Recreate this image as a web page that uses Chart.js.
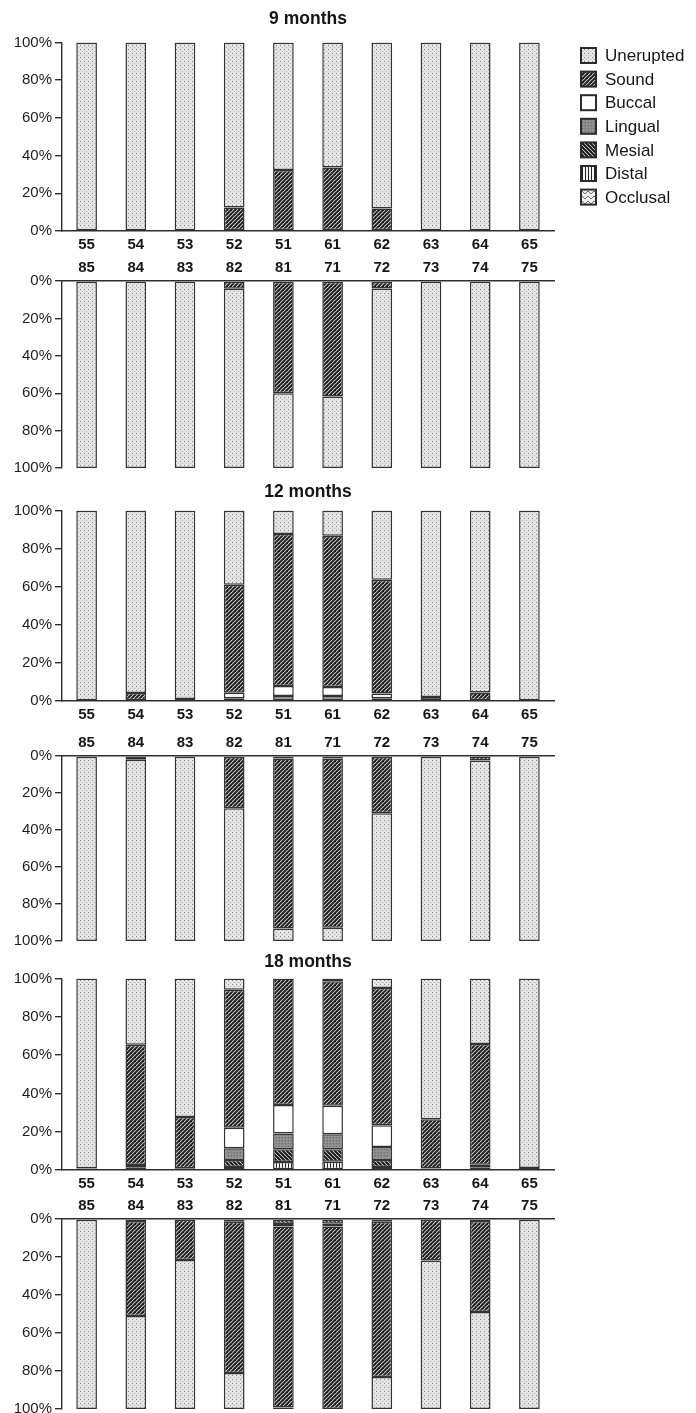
<!DOCTYPE html>
<html>
<head>
<meta charset="utf-8">
<title>Tooth surface status by age</title>
<script src="https://cdn.jsdelivr.net/npm/chart.js@4.4.1/dist/chart.umd.min.js"></script>
<style>
  html, body { margin: 0; padding: 0; background: #fff; }
  #page { position: relative; width: 696px; height: 1413px; overflow: hidden; }
  .panel { position: absolute; left: 0; }
  .panel canvas { display: block; }
</style>
</head>
<body>
<div id="page"></div>
<script>
// ---- data ---------------------------------------------------------------
const categories = ['Unerupted', 'Sound', 'Buccal', 'Lingual', 'Mesial', 'Distal', 'Occlusal'];
const upperTeeth = ['55', '54', '53', '52', '51', '61', '62', '63', '64', '65'];
const lowerTeeth = ['85', '84', '83', '82', '81', '71', '72', '73', '74', '75'];
const percentTicks = [0, 20, 40, 60, 80, 100];
const ageTitles = ['9 months', '12 months', '18 months'];

// rows follow `categories`, columns follow the tooth lists (percent of children)
const months9Upper = [
  [100, 100, 100, 87.5, 67.7, 66.3, 88, 100, 100, 100],
  [0, 0, 0, 12.5, 32.3, 33.7, 12, 0, 0, 0],
  [0, 0, 0, 0, 0, 0, 0, 0, 0, 0],
  [0, 0, 0, 0, 0, 0, 0, 0, 0, 0],
  [0, 0, 0, 0, 0, 0, 0, 0, 0, 0],
  [0, 0, 0, 0, 0, 0, 0, 0, 0, 0],
  [0, 0, 0, 0, 0, 0, 0, 0, 0, 0]
];
const months9Lower = [
  [100, 100, 100, 95.8, 40, 38.2, 96, 100, 100, 100],
  [0, 0, 0, 4.2, 60, 61.8, 4, 0, 0, 0],
  [0, 0, 0, 0, 0, 0, 0, 0, 0, 0],
  [0, 0, 0, 0, 0, 0, 0, 0, 0, 0],
  [0, 0, 0, 0, 0, 0, 0, 0, 0, 0],
  [0, 0, 0, 0, 0, 0, 0, 0, 0, 0],
  [0, 0, 0, 0, 0, 0, 0, 0, 0, 0]
];
const months12Upper = [
  [100, 95.8, 99, 39, 12.3, 13.2, 36.3, 97.9, 95.6, 100],
  [0, 4.2, 1, 56.7, 79.8, 79.5, 59.7, 2.1, 4.4, 0],
  [0, 0, 0, 2.8, 5.3, 4.7, 2.6, 0, 0, 0],
  [0, 0, 0, 1.5, 2.6, 2.6, 1.4, 0, 0, 0],
  [0, 0, 0, 0, 0, 0, 0, 0, 0, 0],
  [0, 0, 0, 0, 0, 0, 0, 0, 0, 0],
  [0, 0, 0, 0, 0, 0, 0, 0, 0, 0]
];
const months12Lower = [
  [100, 98, 100, 71.7, 6.7, 7.2, 69, 100, 97.6, 100],
  [0, 2, 0, 28.3, 92, 91.5, 31, 0, 2.4, 0],
  [0, 0, 0, 0, 1.3, 1.3, 0, 0, 0, 0],
  [0, 0, 0, 0, 0, 0, 0, 0, 0, 0],
  [0, 0, 0, 0, 0, 0, 0, 0, 0, 0],
  [0, 0, 0, 0, 0, 0, 0, 0, 0, 0],
  [0, 0, 0, 0, 0, 0, 0, 0, 0, 0]
];
const months18Upper = [
  [99.2, 34.6, 72.3, 5.9, 0, 1.5, 4.9, 73.5, 34.2, 99],
  [0.8, 62.8, 26.8, 72, 66, 65, 71.7, 25.7, 63.1, 0],
  [0, 1.2, 0.9, 10.7, 15, 14.8, 11.4, 0.8, 1.2, 0],
  [0, 1.4, 0, 6.2, 8.2, 7.9, 6.8, 0, 1.5, 1],
  [0, 0, 0, 3.6, 6.6, 6.5, 3.6, 0, 0, 0],
  [0, 0, 0, 1.6, 4.2, 4.3, 1.6, 0, 0, 0],
  [0, 0, 0, 0, 0, 0, 0, 0, 0, 0]
];
const months18Lower = [
  [100, 49, 78.4, 19, 0.8, 0, 16.8, 78.2, 51, 100],
  [0, 50, 21.6, 79.5, 95.2, 96.1, 81.7, 21.8, 48, 0],
  [0, 0, 0, 0, 1.4, 1.4, 0, 0, 0, 0],
  [0, 0, 0, 0, 0, 0, 0, 0, 0, 0],
  [0, 1, 0, 1.5, 2.6, 2.5, 1.5, 0, 1, 0],
  [0, 0, 0, 0, 0, 0, 0, 0, 0, 0],
  [0, 0, 0, 0, 0, 0, 0, 0, 0, 0]
];

// ---- fills ----------------------------------------------------------------
function tile(w, h, paint) {
  const c = document.createElement('canvas');
  c.width = w; c.height = h;
  const g = c.getContext('2d');
  paint(g, w, h);
  return g.createPattern(c, 'repeat');
}
function diagonal(g, s, color, width, rising) {
  g.strokeStyle = color; g.lineWidth = width; g.lineCap = 'square';
  const segs = rising
    ? [[0, s, s, 0], [-s, s, s, -s], [0, 2 * s, 2 * s, 0]]
    : [[0, 0, s, s], [-s, 0, s, 2 * s], [0, -s, 2 * s, s]];
  segs.forEach(([a, b, c, d]) => { g.beginPath(); g.moveTo(a, b); g.lineTo(c, d); g.stroke(); });
}
const fills = [
  // Unerupted: fine stipple
  tile(4, 4, (g) => {
    g.fillStyle = '#e3e3e3'; g.fillRect(0, 0, 4, 4);
    g.fillStyle = '#8a8a8a'; g.fillRect(0, 0, 1, 1);
    g.fillStyle = '#b8b8b8'; g.fillRect(2, 2, 1, 1);
    g.fillStyle = '#f4f4f4'; g.fillRect(2, 0, 1, 1);
  }),
  // Sound: rising hatch
  tile(4, 4, (g) => {
    g.fillStyle = '#cfcfcf'; g.fillRect(0, 0, 4, 4);
    diagonal(g, 4, '#1c1c1c', 1.9, true);
  }),
  // Buccal: plain white
  '#ffffff',
  // Lingual: mid grey texture
  tile(3, 3, (g) => {
    g.fillStyle = '#8a8a8a'; g.fillRect(0, 0, 3, 3);
    g.fillStyle = '#6c6c6c'; g.fillRect(0, 0, 1, 1);
    g.fillStyle = '#a2a2a2'; g.fillRect(1, 2, 1, 1);
  }),
  // Mesial: falling hatch
  tile(4, 4, (g) => {
    g.fillStyle = '#dedede'; g.fillRect(0, 0, 4, 4);
    diagonal(g, 4, '#181818', 2.0, false);
  }),
  // Distal: vertical lines
  tile(3, 3, (g) => {
    g.fillStyle = '#f4f4f4'; g.fillRect(0, 0, 3, 3);
    g.fillStyle = '#222'; g.fillRect(0, 0, 1, 3);
  }),
  // Occlusal: zigzag
  tile(6, 5, (g) => {
    g.fillStyle = '#eeeeee'; g.fillRect(0, 0, 6, 5);
    g.strokeStyle = '#707070'; g.lineWidth = 1;
    g.beginPath(); g.moveTo(0, 1); g.lineTo(3, 4); g.lineTo(6, 1); g.stroke();
  })
];

// ---- shared look ----------------------------------------------------------
const FONT = '"Liberation Sans", Arial, Helvetica, sans-serif';
Chart.defaults.font.family = FONT;
Chart.defaults.color = '#222';

const AXIS_COLOR = '#2e2e2e';
const LEFT_AXIS_W = 62;   // room for the % labels and tick marks
const RIGHT_ROOM = 142;   // space kept free on the right (legend column)
const PAGE_W = 696;

// legend column drawn beside the first chart
const legendColumn = {
  id: 'legendColumn',
  afterDraw(chart, args, opts) {
    const ctx = chart.ctx;
    ctx.save();
    ctx.font = '17px ' + FONT;
    ctx.textBaseline = 'middle';
    ctx.textAlign = 'left';
    categories.forEach((name, i) => {
      const cy = opts.top + i * opts.step;
      ctx.fillStyle = fills[i];
      ctx.fillRect(opts.x, cy - 7.5, 15, 15);
      ctx.strokeStyle = '#2a2a2a';
      ctx.lineWidth = 2;
      ctx.strokeRect(opts.x, cy - 7.5, 15, 15);
      ctx.fillStyle = '#161616';
      ctx.fillText(name, opts.x + 24, cy + 1);
    });
    ctx.restore();
  }
};

function buildDatasets(rows) {
  // stacked outward from the axis: Occlusal first, Unerupted last
  return categories.map((name, i) => ({
    label: name,
    data: rows[i],
    backgroundColor: fills[i],
    borderColor: '#333333',
    borderWidth: 1.5,
    borderSkipped: false,
    barPercentage: 0.42,
    categoryPercentage: 1
  })).reverse();
}

function addPanel({ teeth, rows, lower, top, zero, end, title, titleY, legend }) {
  const xAxisH = 24;
  let divTop, height, padding, titleOpts = { display: false };
  if (!lower) {
    // title box above the plot area
    const lineH = 21;
    const gap = top - titleY;              // centre of title to top of plot
    const padTop = 4;
    divTop = titleY - lineH / 2 - padTop;
    height = (top - divTop) + (zero - top) + xAxisH;
    padding = { top: padTop, bottom: 0, left: 0, right: RIGHT_ROOM };
    titleOpts = {
      display: true, text: title, fullSize: false,
      font: { size: 17.5, weight: 'bold', lineHeight: 1.2 },
      color: '#161616',
      padding: { top: 0, bottom: gap - lineH / 2 }
    };
  } else {
    const padTop = 4, padBottom = 12;
    divTop = zero - xAxisH - padTop;
    height = padTop + xAxisH + (end - zero) + padBottom;
    padding = { top: padTop, bottom: padBottom, left: 0, right: RIGHT_ROOM };
  }

  const wrap = document.createElement('div');
  wrap.className = 'panel';
  wrap.style.top = divTop + 'px';
  const canvas = document.createElement('canvas');
  canvas.width = PAGE_W;
  canvas.height = Math.round(height);
  wrap.appendChild(canvas);
  document.getElementById('page').appendChild(wrap);

  const pluginOpts = { title: titleOpts, legend: { display: false }, tooltip: { enabled: false } };
  if (legend) pluginOpts.legendColumn = legend;

  new Chart(canvas, {
    type: 'bar',
    data: { labels: teeth, datasets: buildDatasets(rows) },
    plugins: legend ? [legendColumn] : [],
    options: {
      responsive: false,
      animation: false,
      events: [],
      layout: { padding },
      plugins: pluginOpts,
      scales: {
        x: {
          stacked: true,
          position: lower ? 'top' : 'bottom',
          afterFit: (s) => { s.height = xAxisH; },
          grid: { display: false, drawTicks: false },
          border: { display: true, color: AXIS_COLOR, width: 1.4 },
          ticks: {
            font: { size: 15, weight: 'bold' }, color: '#161616',
            padding: lower ? 4 : 5, maxRotation: 0, autoSkip: false
          }
        },
        y: {
          stacked: true,
          min: 0, max: 100,
          reverse: lower,
          afterFit: (s) => { s.width = LEFT_AXIS_W; },
          afterBuildTicks: (s) => { s.ticks = percentTicks.map((v) => ({ value: v })); },
          grid: { drawOnChartArea: false, drawTicks: true, tickLength: 7, color: AXIS_COLOR, lineWidth: 1.4 },
          border: { display: true, color: AXIS_COLOR, width: 1.4 },
          ticks: { callback: (v) => v + '%', font: { size: 15 }, color: '#1e1e1e', padding: 3 }
        }
      }
    }
  });
}

// ---- layout: three ages, each with an upper and a lower jaw panel -----------
const ageBlocks = [
  { title: ageTitles[0], titleY: 19,  up: [42, 230],    low: [281.3, 468],   upper: months9Upper,  lowerRows: months9Lower },
  { title: ageTitles[1], titleY: 492, up: [510, 700.5], low: [755.5, 940.5], upper: months12Upper, lowerRows: months12Lower },
  { title: ageTitles[2], titleY: 962, up: [978, 1169],  low: [1219.3, 1409], upper: months18Upper, lowerRows: months18Lower }
];

ageBlocks.forEach((b, i) => {
  addPanel({
    teeth: upperTeeth, rows: b.upper, lower: false,
    top: b.up[0], zero: b.up[1], title: b.title, titleY: b.titleY,
    legend: i === 0 ? { x: 581, top: 55 - (ageBlocks[0].titleY - 21 / 2 - 4), step: 23.6 } : null
  });
  addPanel({
    teeth: lowerTeeth, rows: b.lowerRows, lower: true,
    zero: b.low[0], end: b.low[1]
  });
});
</script>
</body>
</html>
